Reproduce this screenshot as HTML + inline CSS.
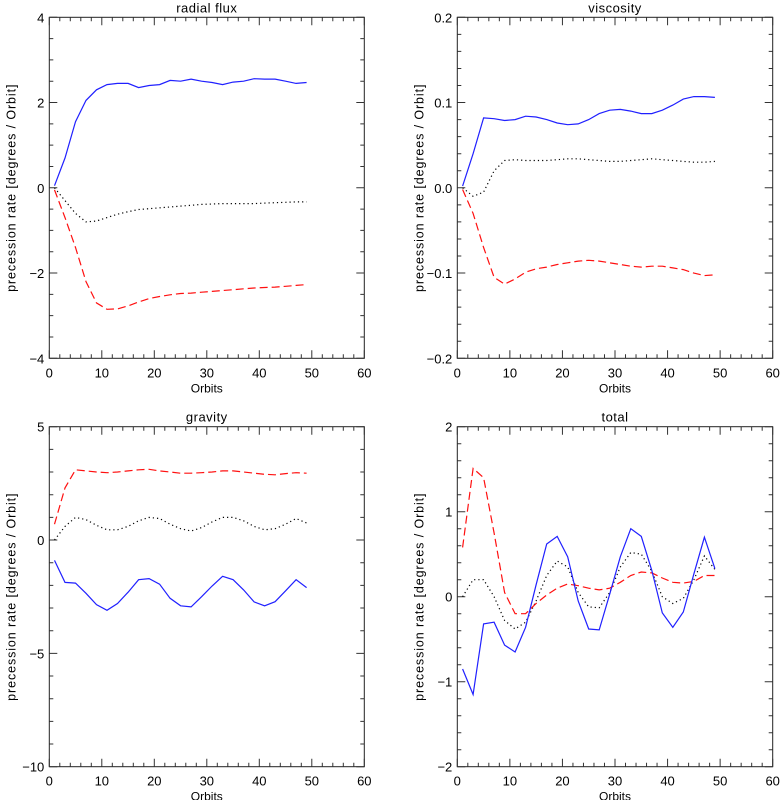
<!DOCTYPE html>
<html><head><meta charset="utf-8"><style>
body{margin:0;background:#fff}
svg{display:block;font-family:"Liberation Sans","DejaVu Sans",sans-serif}
</style></head><body>
<svg id="c" width="780" height="800" viewBox="0 0 780 800"></svg>
<script>
const orbits=[1,3,5,7,9,11,13,15,17,19,21,23,25,27,29,31,33,35,37,39,41,43,45,47,49];
const xTicks=[0,10,20,30,40,50,60];
const radialBlue=[0.05,0.7,1.55,2.05,2.3,2.42,2.45,2.45,2.35,2.4,2.42,2.52,2.5,2.55,2.5,2.47,2.42,2.48,2.5,2.56,2.55,2.55,2.5,2.45,2.47];
const radialBlack=[0,-0.3,-0.6,-0.8,-0.78,-0.7,-0.62,-0.56,-0.51,-0.49,-0.47,-0.45,-0.43,-0.41,-0.39,-0.38,-0.37,-0.37,-0.37,-0.37,-0.36,-0.35,-0.34,-0.33,-0.33];
const radialRed=[-0.05,-0.7,-1.4,-2.2,-2.7,-2.85,-2.84,-2.77,-2.68,-2.6,-2.55,-2.51,-2.48,-2.47,-2.45,-2.43,-2.41,-2.39,-2.37,-2.35,-2.34,-2.33,-2.31,-2.29,-2.27];
const viscBlue=[0.002,0.04,0.082,0.081,0.079,0.08,0.084,0.083,0.08,0.076,0.074,0.075,0.08,0.087,0.091,0.092,0.09,0.087,0.087,0.091,0.097,0.104,0.107,0.107,0.106];
const viscBlack=[0,-0.01,-0.005,0.02,0.032,0.033,0.032,0.032,0.032,0.033,0.034,0.034,0.033,0.032,0.031,0.031,0.032,0.033,0.034,0.033,0.032,0.031,0.03,0.03,0.031];
const viscRed=[-0.002,-0.03,-0.07,-0.105,-0.113,-0.107,-0.099,-0.095,-0.093,-0.09,-0.088,-0.086,-0.085,-0.086,-0.088,-0.09,-0.092,-0.093,-0.092,-0.092,-0.094,-0.096,-0.1,-0.103,-0.102];
const gravBlue=[-0.9,-1.87,-1.9,-2.35,-2.85,-3.1,-2.8,-2.3,-1.75,-1.7,-1.95,-2.57,-2.9,-2.95,-2.5,-2.03,-1.6,-1.75,-2.2,-2.73,-2.9,-2.72,-2.24,-1.75,-2.1];
const gravBlack=[0,0.6,1.0,0.9,0.65,0.45,0.45,0.6,0.85,1.0,0.95,0.7,0.5,0.4,0.55,0.8,1.0,1.0,0.85,0.6,0.45,0.5,0.7,0.95,0.75];
const gravRed=[0.7,2.3,3.1,3.05,3.0,2.97,3.0,3.05,3.1,3.12,3.05,3.0,2.95,2.95,2.97,3.0,3.05,3.05,3.0,2.95,2.9,2.88,2.93,2.97,2.95];
const totBlue=[-0.85,-1.15,-0.32,-0.3,-0.57,-0.65,-0.36,0.14,0.62,0.71,0.47,-0.05,-0.38,-0.39,0.03,0.47,0.8,0.71,0.31,-0.19,-0.36,-0.18,0.27,0.7,0.33];
const totBlack=[0,0.2,0.2,0.0,-0.28,-0.38,-0.3,-0.05,0.25,0.42,0.35,0.05,-0.12,-0.13,0.05,0.35,0.52,0.5,0.3,0.0,-0.08,-0.02,0.2,0.48,0.32];
const totRed=[0.58,1.51,1.4,0.75,0.05,-0.2,-0.2,-0.08,0.02,0.1,0.15,0.13,0.1,0.08,0.1,0.17,0.25,0.29,0.28,0.22,0.17,0.16,0.18,0.25,0.25];
const radialYTicks=[-4,-2,0,2,4];
const viscYTicks=[-0.2,-0.1,0.0,0.1,0.2];
const gravYTicks=[-10,-5,0,5];
const totYTicks=[-2,-1,0,1,2];

const svg=document.getElementById('c');
const NS='http://www.w3.org/2000/svg';
function mk(tag,attrs,parent){const e=document.createElementNS(NS,tag);for(const k in attrs)e.setAttribute(k,attrs[k]);parent.appendChild(e);return e;}

function panel(key,title,x0,y0,x1,y1,ymin,ymax,yticks,minorStep,labels,series){
  const g=mk('g',{},svg);
  
  
  const sx=v=>x0+(v-0)/60*(x1-x0);
  const sy=v=>y1-(v-ymin)/(ymax-ymin)*(y1-y0);
  const fr=mk('rect',{x:x0,y:y0,width:x1-x0,height:y1-y0,fill:'none',stroke:'#222','stroke-width':1},g);
  
  
  let d='';
  for(let v=0;v<=60.001;v+=2){const X=sx(v);const L=(Math.abs(v%10)<1e-6)?8:4;d+=`M${X},${y1}v${-L}M${X},${y0}v${L}`;}
  const n=Math.round((ymax-ymin)/minorStep);
  for(let i=0;i<=n;i++){const v=ymin+i*minorStep;const Y=sy(v);const maj=yticks.some(t=>Math.abs(t-v)<minorStep/10);const L=maj?8:4;d+=`M${x0},${Y}h${L}M${x1},${Y}h${-L}`;}
  const tk=mk('path',{d:d,stroke:'#333','stroke-width':1,fill:'none'},g);
  
  
  xTicks.forEach(v=>{const t=mk('text',{x:sx(v),y:y1+19,'text-anchor':'middle','font-size':13},g);t.textContent=v;
    
    });
  yticks.forEach((v,i)=>{const t=mk('text',{x:x0-5,y:sy(v)+5,'text-anchor':'end','font-size':13},g);t.textContent=labels[i];
    
    });
  const tt=mk('text',{x:(x0+x1)/2,y:y0-5,'text-anchor':'middle','font-size':13,'letter-spacing':'0.5'},g);tt.textContent=title;
  
  
  const xl=mk('text',{x:(x0+x1)/2,y:y1+34,'text-anchor':'middle','font-size':12},g);xl.textContent='Orbits';
  
  
  const cy=(y0+y1)/2, cx=x0-34;
  const yl=mk('text',{x:cx,y:cy,'text-anchor':'middle','font-size':12.5,'letter-spacing':'0.9',transform:`rotate(-90 ${cx} ${cy})`},g);yl.textContent='precession rate [degrees / Orbit]';
  
  
  series.forEach(s=>{
    const pts=orbits.map((o,i)=>sx(o).toFixed(1)+','+sy(s.vals[i]).toFixed(1)).join(' ');
    const p=mk('polyline',{points:pts,fill:'none',stroke:s.color,'stroke-width':1.2,'stroke-dasharray':s.dash},g);
    
    
  });
}
const B='#2020ff',R='#ff1010',K='#000';
panel('radial-flux','radial flux',49.3,17.3,364.3,358.3,-4,4,radialYTicks,0.5,['−4','−2','0','2','4'],
 [{name:'dotted',vals:radialBlack,color:K,dash:'1.2 3'},{name:'dashed',vals:radialRed,color:R,dash:'8 4'},{name:'solid',vals:radialBlue,color:B,dash:'none'}]);
panel('viscosity','viscosity',457.3,17.3,772.7,358.3,-0.2,0.2,viscYTicks,0.02,['−0.2','−0.1','0.0','0.1','0.2'],
 [{name:'dotted',vals:viscBlack,color:K,dash:'1.2 3'},{name:'dashed',vals:viscRed,color:R,dash:'8 4'},{name:'solid',vals:viscBlue,color:B,dash:'none'}]);
panel('gravity','gravity',49.3,426.7,364.3,766.7,-10,5,gravYTicks,1,['−10','−5','0','5'],
 [{name:'dotted',vals:gravBlack,color:K,dash:'1.2 3'},{name:'dashed',vals:gravRed,color:R,dash:'8 4'},{name:'solid',vals:gravBlue,color:B,dash:'none'}]);
panel('total','total',457.3,426.7,772.7,766.7,-2,2,totYTicks,0.2,['−2','−1','0','1','2'],
 [{name:'dotted',vals:totBlack,color:K,dash:'1.2 3'},{name:'dashed',vals:totRed,color:R,dash:'8 4'},{name:'solid',vals:totBlue,color:B,dash:'none'}]);
</script>
</body></html>
